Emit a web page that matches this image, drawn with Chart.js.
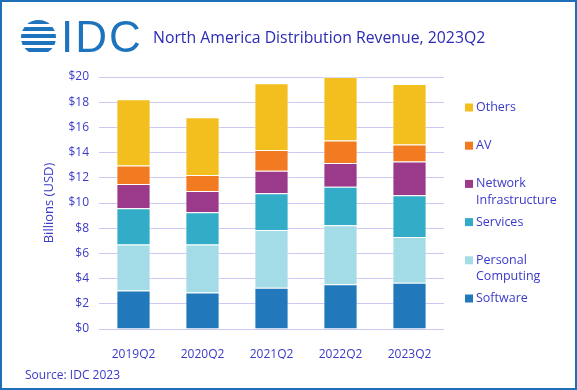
<!DOCTYPE html>
<html>
<head>
<meta charset="utf-8">
<script src="https://cdn.jsdelivr.net/npm/chart.js@4"></script>
<style>
  html, body { margin: 0; padding: 0; background: #fff; }
  #wrap { position: relative; width: 577px; height: 390px; overflow: hidden; font-family: "Open Sans", sans-serif; }
  #chart { position: absolute; left: 0; top: 0; }
  #frame { position: absolute; left: 0; top: 0; width: 577px; height: 390px; box-sizing: border-box; border: 2px solid #1f6fb8; pointer-events: none; }
  #globe { position: absolute; left: 21px; top: 20px; width: 35px; height: 35px; border-radius: 50%;
    background: repeating-linear-gradient(180deg, #1e73be 0px, #1e73be 4px, #fff 4px, #fff 7px); }
  #idc { position: absolute; left: 61px; top: 9px; font-family: "Liberation Sans", Arial, sans-serif; font-size: 44px; color: #1e73be; line-height: 56px; letter-spacing: 2px; }
  #title { position: absolute; left: 153px; top: 26px; font-size: 15.8px; color: #2b2bb5; white-space: nowrap; }
  #source { position: absolute; left: 25px; top: 366px; font-size: 12px; color: #3a3ac8; }
</style>
</head>
<body>
<div id="wrap">
  <canvas id="chart" width="577" height="390"></canvas>
  <div id="globe"></div>
  <div id="idc">IDC</div>
  <div id="title">North America Distribution Revenue, 2023Q2</div>
  <div id="source">Source: IDC 2023</div>
  <div id="frame"></div>
</div>
<script>
const categories = ['2019Q2', '2020Q2', '2021Q2', '2022Q2', '2023Q2'];
const seriesNames = ['Software', 'Personal Computing', 'Services', 'Network Infrastructure', 'AV', 'Others'];
const software = [3.06, 2.90, 3.27, 3.56, 3.67];
const personalComputing = [3.64, 3.80, 4.59, 4.67, 3.64];
const services = [2.88, 2.56, 2.91, 3.06, 3.30];
const networkInfra = [1.92, 1.69, 1.79, 1.88, 2.69];
const av = [1.48, 1.27, 1.64, 1.79, 1.34];
const others = [5.25, 4.59, 5.30, 5.04, 4.81];
const yTicks = [0, 2, 4, 6, 8, 10, 12, 14, 16, 18, 20];

const seriesValues = [software, personalComputing, services, networkInfra, av, others];
const colors = ['#2178ba', '#a3dbe6', '#33acc7', '#9b3a8b', '#f27a21', '#f3bf1f'];
const textColor = '#3a3ac8';

// legend on the right, top item = last dataset
const sideLegend = {
  id: 'sideLegend',
  afterDraw(chart) {
    const ctx = chart.ctx;
    const sets = chart.data.datasets;
    ctx.save();
    ctx.font = '12.5px "Open Sans"';
    ctx.fillStyle = textColor;
    ctx.textBaseline = 'middle';
    for (let i = 0; i < sets.length; i++) {
      const ds = sets[sets.length - 1 - i];
      const y = 107.5 + i * 38.2;
      ctx.fillStyle = ds.backgroundColor;
      ctx.fillRect(465, y - 4, 8, 8);
      ctx.fillStyle = textColor;
      const words = ds.label.split(' ');
      words.forEach((w, j) => ctx.fillText(w, 476, y + j * 16.5));
    }
    ctx.restore();
  }
};

new Chart(document.getElementById('chart'), {
  type: 'bar',
  data: {
    labels: categories,
    datasets: seriesNames.map((name, i) => ({
      label: name,
      data: seriesValues[i],
      backgroundColor: colors[i],
      borderColor: 'rgba(255,255,255,0.35)',
      borderWidth: 1,
      barPercentage: 0.62,
      categoryPercentage: 0.8
    }))
  },
  options: {
    responsive: false,
    animation: false,
    layout: { padding: { left: 37, top: 77, right: 133, bottom: 31 } },
    scales: {
      x: {
        stacked: true,
        grid: { display: false },
        border: { display: false },
        ticks: { color: textColor, font: { family: 'Open Sans', size: 12 }, padding: 10 },
        afterFit: (s) => { s.height = 30; }
      },
      y: {
        stacked: true,
        min: 0,
        max: 20,
        afterBuildTicks: (s) => { s.ticks = yTicks.map(v => ({ value: v })); },
        grid: { color: '#c9c9f2', lineWidth: 1, drawTicks: false },
        border: { display: false },
        ticks: { color: textColor, font: { family: 'Open Sans', size: 12 }, padding: 10, callback: (v) => '$' + v },
        title: { display: true, text: 'Billions (USD)', color: textColor, font: { family: 'Open Sans', size: 13 } },
        afterFit: (s) => { s.width = 62; }
      }
    },
    plugins: {
      legend: { display: false },
      tooltip: { enabled: false }
    }
  },
  plugins: [sideLegend]
});
</script>
</body>
</html>
